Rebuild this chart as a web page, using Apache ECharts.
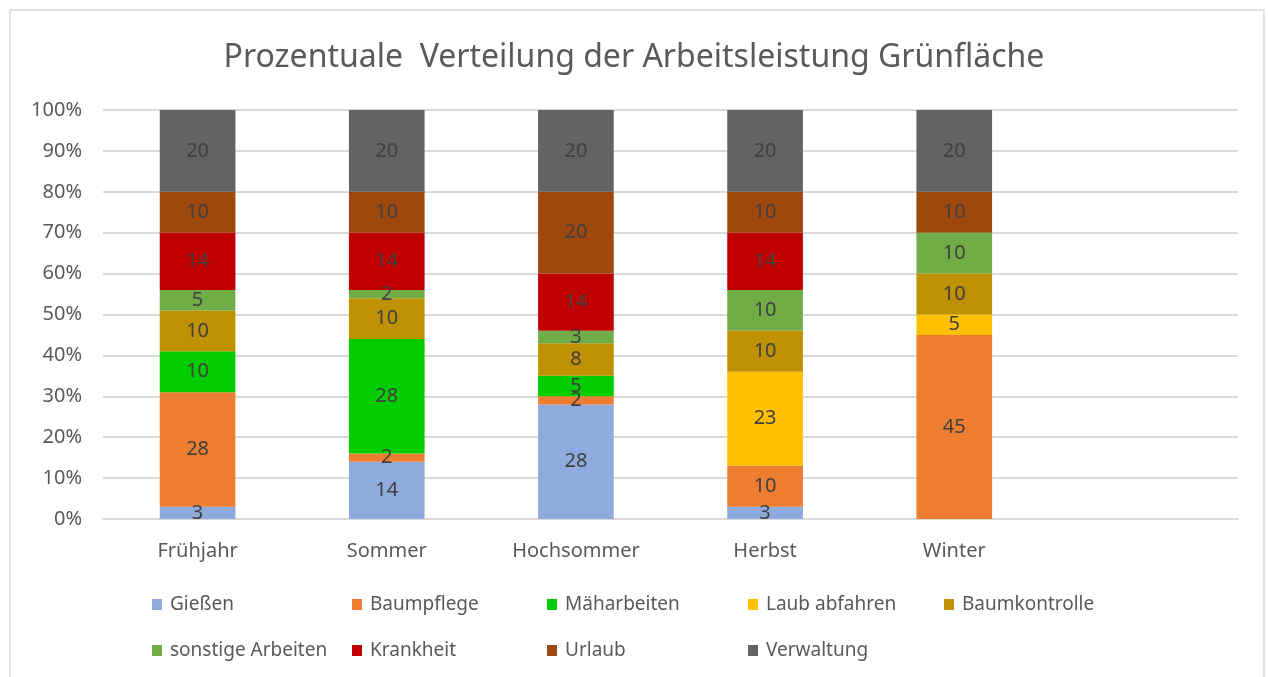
<!DOCTYPE html>
<html>
<head>
<meta charset="utf-8">
<script src="https://cdn.jsdelivr.net/npm/echarts@6/dist/echarts.min.js"></script>
<style>
  html, body { margin: 0; padding: 0; background: #fff; }
  #chart { width: 1268px; height: 677px; }
</style>
</head>
<body>
<div id="chart"></div>
<script>
// Jahreszeiten (letzte Spalte leer wie im Original)
var seasons = ['Frühjahr', 'Sommer', 'Hochsommer', 'Herbst', 'Winter', ''];

var taskNames = ['Gießen', 'Baumpflege', 'Mäharbeiten', 'Laub abfahren', 'Baumkontrolle',
                 'sonstige Arbeiten', 'Krankheit', 'Urlaub', 'Verwaltung'];

var giessen       = [3, 14, 28, 3, 0, 0];
var baumpflege    = [28, 2, 2, 10, 45, 0];
var maeharbeiten  = [10, 28, 5, 0, 0, 0];
var laubAbfahren  = [0, 0, 0, 23, 5, 0];
var baumkontrolle = [10, 10, 8, 10, 10, 0];
var sonstige      = [5, 2, 3, 10, 10, 0];
var krankheit     = [14, 14, 14, 14, 0, 0];
var urlaub        = [10, 10, 20, 10, 10, 0];
var verwaltung    = [20, 20, 20, 20, 20, 0];

var yTicks = [0, 10, 20, 30, 40, 50, 60, 70, 80, 90, 100];

var taskValues = [giessen, baumpflege, maeharbeiten, laubAbfahren, baumkontrolle,
                  sonstige, krankheit, urlaub, verwaltung];
var taskColors = ['#8FAADC', '#ED7D31', '#00CC00', '#FFC000', '#BF9000',
                  '#70AD47', '#C00000', '#9E480E', '#636363'];

var fontName = 'Noto Sans';

var series = [];
for (let i = 0; i < taskNames.length; i++) {
    series.push({
        name: taskNames[i],
        type: 'bar',
        stack: 'gesamt',
        barCategoryGap: '60%',
        data: taskValues[i],
        itemStyle: {color: taskColors[i]},
        label: {
            show: true,
            position: 'inside',
            color: '#404040',
            fontFamily: fontName,
            fontSize: 20,
            formatter: function (p) { return p.value ? String(p.value) : ''; }
        }
    });
}

// Legende im Excel-Raster: 5 Spalten, 2 Zeilen
var legendCols = [147, 347, 542, 743, 939];
var legendRows = [590, 636];
var legends = [];
for (let i = 0; i < taskNames.length; i++) {
    legends.push({
        data: [taskNames[i]],
        left: legendCols[i % 5],
        top: legendRows[Math.floor(i / 5)],
        itemWidth: 10,
        itemHeight: 11,
        icon: 'rect',
        textStyle: {color: '#595959', fontFamily: fontName, fontSize: 19, padding: [0, 0, 0, 3]}
    });
}

var myChart = echarts.init(document.getElementById('chart'));

var option = {
    animation: false,
    title: {
        text: 'Prozentuale  Verteilung der Arbeitsleistung Grünfläche',
        left: 'center',
        top: 37,
        textStyle: {color: '#595959', fontFamily: fontName, fontSize: 32, fontWeight: 'normal'}
    },
    graphic: [{
        type: 'rect',
        shape: {x: 10, y: 10, width: 1254, height: 700},
        style: {fill: 'none', stroke: '#D9D9D9', lineWidth: 1.5},
        silent: true
    }],
    legend: legends,
    grid: {left: 103, right: 30, top: 110, bottom: 158},
    xAxis: {
        type: 'category',
        data: seasons,
        axisLine: {lineStyle: {color: '#D9D9D9', width: 2}},
        axisTick: {show: false},
        axisLabel: {color: '#595959', fontFamily: fontName, fontSize: 20, margin: 22}
    },
    yAxis: {
        type: 'value',
        min: yTicks[0],
        max: yTicks[yTicks.length - 1],
        interval: yTicks[1] - yTicks[0],
        axisLine: {show: false},
        axisTick: {show: false},
        splitLine: {lineStyle: {color: '#D9D9D9', width: 2}},
        axisLabel: {color: '#595959', fontFamily: fontName, fontSize: 20, margin: 21,
                    formatter: '{value}%'}
    },
    series: series
};
myChart.setOption(option);
</script>
</body>
</html>
